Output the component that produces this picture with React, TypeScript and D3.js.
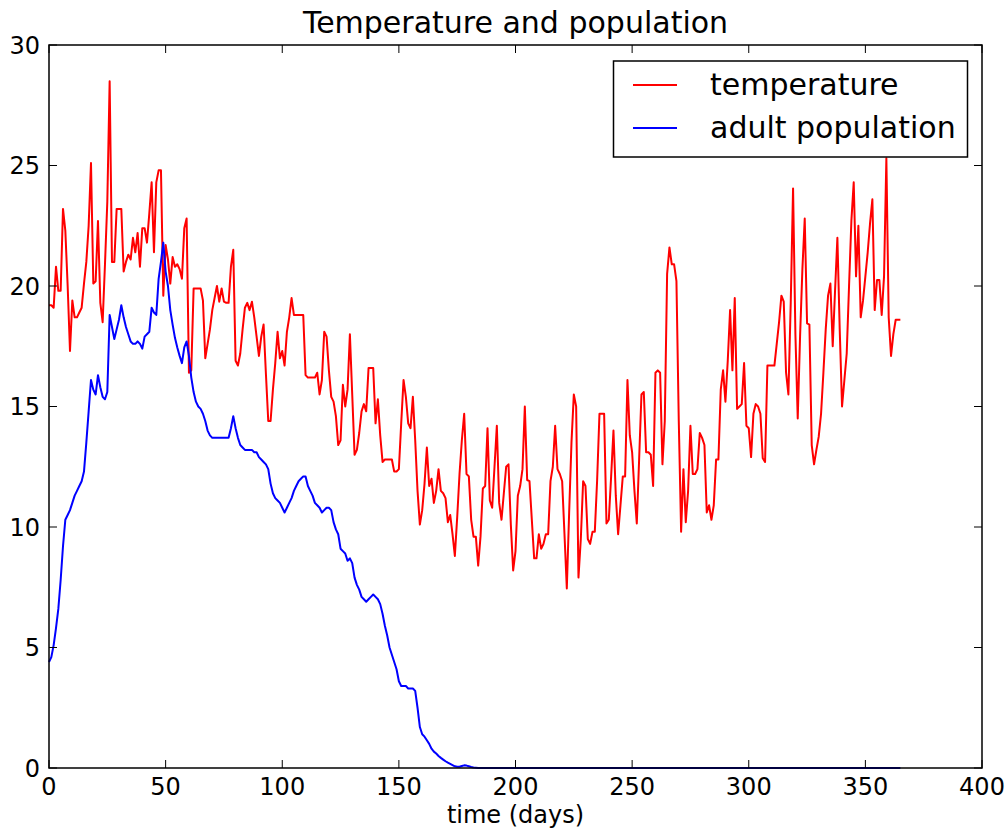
import React from "react";
import * as d3 from "d3";

// daily temperature, day 0 .. 365
const temperature = [
  19.2, 19.2, 19.1, 20.8, 19.8, 19.8, 23.2, 22.3, 20.0, 17.3,
  19.4, 18.7, 18.7, 18.9, 19.1, 20.1, 21.0, 22.5, 25.1, 20.1,
  20.2, 22.7, 19.3, 18.5, 20.9, 23.5, 28.5, 21.0, 21.0, 23.2,
  23.2, 23.2, 20.6, 21.0, 21.3, 21.1, 22.0, 21.4, 22.2, 20.8,
  22.4, 22.4, 21.8, 23.0, 24.3, 21.4, 24.3, 24.8, 24.8, 19.6,
  21.7, 21.1, 20.1, 21.2, 20.8, 20.9, 20.7, 20.3, 22.4, 22.8,
  16.4, 16.5, 19.9, 19.9, 19.9, 19.9, 19.4, 17.0, 17.6, 18.2,
  19.0, 19.5, 20.0, 19.35, 19.9, 19.35, 19.3, 19.3, 20.8, 21.5,
  16.9, 16.7, 17.2, 18.2, 19.1, 19.3, 19.0, 19.35, 18.7, 17.9,
  17.1, 17.9, 18.4, 16.35, 14.4, 14.4, 15.7, 16.8, 18.1, 17.0,
  17.3, 16.7, 18.1, 18.7, 19.5, 18.8, 18.8, 18.8, 18.8, 18.8,
  16.3, 16.2, 16.2, 16.2, 16.2, 16.4, 15.5, 16.1, 18.1, 17.9,
  16.5, 15.4, 15.2, 14.6, 13.4, 13.6, 15.9, 15.0, 15.7, 18.0,
  15.5, 13.0, 13.2, 13.9, 14.8, 15.1, 14.8, 16.6, 16.6, 16.6,
  14.3, 15.3, 13.8, 12.7, 12.8, 12.8, 12.8, 12.8, 12.3, 12.3,
  12.4, 14.3, 16.1, 15.4, 14.3, 14.1, 15.4, 13.6, 11.5, 10.1,
  10.7, 11.8, 13.3, 11.7, 12.0, 11.0, 11.5, 12.4, 11.5, 11.4,
  11.2, 10.2, 10.5, 9.7, 8.8, 10.4, 12.2, 13.6, 14.7, 12.2,
  12.1, 10.3, 9.6, 9.6, 8.4, 9.6, 11.6, 11.7, 14.1, 11.1,
  10.8, 12.5, 14.2, 11.0, 10.3, 11.4, 12.5, 12.6, 10.1, 8.2,
  9.0, 11.3, 11.7, 12.4, 15.0, 11.95, 11.9, 10.3, 8.7, 8.7,
  9.7, 9.1, 9.3, 9.7, 9.7, 11.9, 12.5, 14.2, 12.4, 12.2,
  11.9, 9.7, 7.45, 10.6, 13.5, 15.5, 15.0, 7.9, 9.5, 11.9,
  11.7, 9.5, 9.3, 9.8, 9.8, 11.95, 14.7, 14.7, 14.7, 10.15,
  10.3, 12.1, 14.0, 11.3, 9.7, 10.9, 12.1, 12.1, 16.1, 13.8,
  13.1, 11.5, 10.15, 12.8, 15.5, 15.6, 13.1, 13.1, 13.0, 11.7,
  16.4, 16.5, 16.4, 12.6, 14.4, 20.5, 21.6, 20.9, 20.9, 20.2,
  14.4, 9.8, 12.4, 10.2, 11.5, 14.2, 12.2, 12.2, 12.4, 13.9,
  13.7, 13.4, 10.6, 10.9, 10.3, 10.9, 12.8, 12.8, 15.7, 16.5,
  15.2, 16.9, 19.0, 16.5, 19.5, 14.9, 15.0, 15.1, 16.8, 14.2,
  14.1, 12.9, 14.7, 15.1, 15.0, 14.7, 12.85, 12.7, 16.7, 16.7,
  16.7, 16.7, 17.6, 18.5, 19.6, 19.35, 16.4, 15.5, 19.3, 24.05,
  18.0, 14.5, 17.9, 20.7, 22.8, 18.45, 18.4, 13.4, 12.6, 13.2,
  13.75, 14.7, 16.4, 18.2, 19.6, 20.1, 17.5, 19.8, 22.0, 18.2,
  15.0, 16.1, 17.2, 20.0, 22.7, 24.3, 20.4, 22.5, 18.7, 19.4,
  20.4, 21.4, 22.6, 23.6, 19.0, 20.25, 20.25, 18.8, 20.4, 25.3,
  18.7, 17.1, 18.0, 18.6, 18.6, 18.6,
];

// adult population, day 0 .. 365
const population = [
  4.4, 4.6, 5.1, 5.8, 6.6, 7.8, 9.2, 10.3, 10.5, 10.7,
  11.0, 11.3, 11.5, 11.7, 11.9, 12.3, 13.5, 14.8, 16.1, 15.7,
  15.5, 16.3, 15.8, 15.4, 15.3, 15.6, 18.8, 18.3, 17.8, 18.2,
  18.6, 19.2, 18.7, 18.3, 18.0, 17.7, 17.6, 17.6, 17.7, 17.6,
  17.4, 17.9, 18.0, 18.1, 19.1, 18.9, 18.8, 20.3, 21.0, 21.8,
  20.6, 20.0, 19.0, 18.4, 17.85, 17.45, 17.1, 16.8, 17.45, 17.7,
  17.1, 16.2, 15.6, 15.2, 15.0, 14.9, 14.7, 14.4, 14.0, 13.8,
  13.7, 13.7, 13.7, 13.7, 13.7, 13.7, 13.7, 13.7, 14.1, 14.6,
  14.1, 13.7, 13.4, 13.3, 13.2, 13.2, 13.2, 13.2, 13.1, 13.1,
  12.9, 12.8, 12.7, 12.6, 12.4, 11.8, 11.4, 11.2, 11.1, 11.0,
  10.8, 10.6, 10.8, 11.0, 11.2, 11.5, 11.7, 11.9, 12.0, 12.1,
  12.1, 11.7, 11.5, 11.3, 11.0, 10.9, 10.8, 10.6, 10.7, 10.8,
  10.8, 10.7, 10.2, 9.9, 9.7, 9.1, 9.0, 8.9, 8.6, 8.7,
  8.5, 7.9, 7.6, 7.4, 7.1, 7.0, 6.9, 7.0, 7.1, 7.2,
  7.1, 7.0, 6.8, 6.4, 5.9, 5.5, 5.0, 4.7, 4.4, 4.1,
  3.6, 3.4, 3.4, 3.4, 3.3, 3.3, 3.3, 3.2, 2.5, 1.7,
  1.4, 1.3, 1.15, 1.0, 0.8, 0.68, 0.6, 0.5, 0.42, 0.35,
  0.28, 0.22, 0.17, 0.12, 0.07, 0.05, 0.05, 0.08, 0.11, 0.1,
  0.07, 0.04, 0.02, 0.01, 0, 0, 0, 0, 0, 0,
  0, 0, 0, 0, 0, 0, 0, 0, 0, 0,
  0, 0, 0, 0, 0, 0, 0, 0, 0, 0,
  0, 0, 0, 0, 0, 0, 0, 0, 0, 0,
  0, 0, 0, 0, 0, 0, 0, 0, 0, 0,
  0, 0, 0, 0, 0, 0, 0, 0, 0, 0,
  0, 0, 0, 0, 0, 0, 0, 0, 0, 0,
  0, 0, 0, 0, 0, 0, 0, 0, 0, 0,
  0, 0, 0, 0, 0, 0, 0, 0, 0, 0,
  0, 0, 0, 0, 0, 0, 0, 0, 0, 0,
  0, 0, 0, 0, 0, 0, 0, 0, 0, 0,
  0, 0, 0, 0, 0, 0, 0, 0, 0, 0,
  0, 0, 0, 0, 0, 0, 0, 0, 0, 0,
  0, 0, 0, 0, 0, 0, 0, 0, 0, 0,
  0, 0, 0, 0, 0, 0, 0, 0, 0, 0,
  0, 0, 0, 0, 0, 0, 0, 0, 0, 0,
  0, 0, 0, 0, 0, 0, 0, 0, 0, 0,
  0, 0, 0, 0, 0, 0, 0, 0, 0, 0,
  0, 0, 0, 0, 0, 0,
];

const xTicks = [0, 50, 100, 150, 200, 250, 300, 350, 400];
const yTicks = [0, 5, 10, 15, 20, 25, 30];
const seriesNames = ["temperature", "adult population"];
const seriesColors = ["#ff0000", "#0000ff"];

const W = 1007;
const H = 832;
const left = 49, right = 982, top = 45, bottom = 768;
const font = "'DejaVu Sans', sans-serif";

export default function App() {
  const x = d3.scaleLinear().domain([0, 400]).range([left, right]);
  const y = d3.scaleLinear().domain([0, 30]).range([bottom, top]);
  const line = d3
    .line<number>()
    .x((_, i) => x(i))
    .y((d) => y(d));

  const series = [temperature, population];
  const tickLen = 8;

  return (
    <div style={{ position: "absolute", left: 0, top: 0 }}>
      <svg width={W} height={H} style={{ display: "block", background: "#fff" }}>
        <rect x={0} y={0} width={W} height={H} fill="#fff" />

        {series.map((s, i) => (
          <path
            key={i}
            d={line(s) || ""}
            fill="none"
            stroke={seriesColors[i]}
            strokeWidth={2}
            strokeLinejoin="round"
          />
        ))}

        {/* ticks on all four sides, pointing inward */}
        {xTicks.map((t) => (
          <g key={"x" + t}>
            <line x1={x(t)} x2={x(t)} y1={bottom} y2={bottom - tickLen} stroke="#000" strokeWidth={1} />
            <line x1={x(t)} x2={x(t)} y1={top} y2={top + tickLen} stroke="#000" strokeWidth={1} />
            <text x={x(t)} y={795} textAnchor="middle" fontFamily={font} fontSize={24} fill="#000">
              {t}
            </text>
          </g>
        ))}
        {yTicks.map((t) => (
          <g key={"y" + t}>
            <line x1={left} x2={left + tickLen} y1={y(t)} y2={y(t)} stroke="#000" strokeWidth={1} />
            <line x1={right} x2={right - tickLen} y1={y(t)} y2={y(t)} stroke="#000" strokeWidth={1} />
            <text x={40} y={y(t) + 8.7} textAnchor="end" fontFamily={font} fontSize={24} fill="#000">
              {t}
            </text>
          </g>
        ))}

        <rect
          x={left}
          y={top}
          width={right - left}
          height={bottom - top}
          fill="none"
          stroke="#000"
          strokeWidth={1.5}
        />

        <text x={(left + right) / 2} y={33} textAnchor="middle" fontFamily={font} fontSize={30} fill="#000">
          Temperature and population
        </text>
        <text x={(left + right) / 2} y={823} textAnchor="middle" fontFamily={font} fontSize={24} fill="#000">
          time (days)
        </text>

        {/* legend */}
        <g>
          <rect x={613.5} y={61} width={354} height={96} fill="#fff" stroke="#000" strokeWidth={1.5} />
          {seriesNames.map((name, i) => {
            const ly = 85 + i * 43;
            return (
              <g key={name}>
                <line x1={633} x2={677} y1={ly} y2={ly} stroke={seriesColors[i]} strokeWidth={2} />
                <text x={710} y={ly + 10} fontFamily={font} fontSize={30} fill="#000">
                  {name}
                </text>
              </g>
            );
          })}
        </g>
      </svg>
    </div>
  );
}
